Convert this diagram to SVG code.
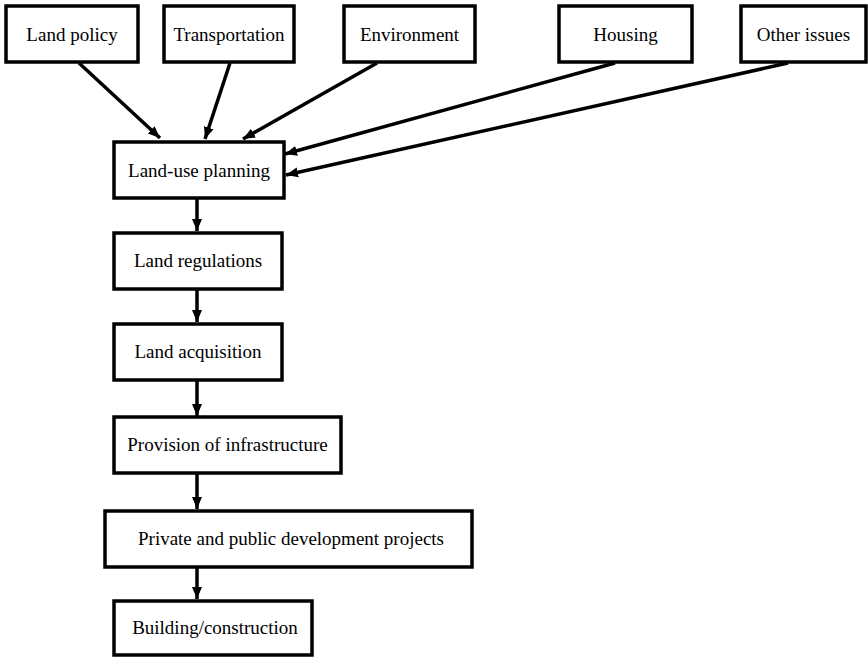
<svg xmlns="http://www.w3.org/2000/svg" width="868" height="658" viewBox="0 0 868 658">
<style>
.box{fill:#fff;stroke:#000;stroke-width:3.5}
.lbl{font-family:"Liberation Serif","Times New Roman",serif;font-size:19px;fill:#000;text-anchor:middle;dominant-baseline:central}
.con{stroke:#000;stroke-width:3.5;fill:none;marker-end:url(#ah)}
</style>
<defs>
<marker id="ah" markerUnits="userSpaceOnUse" markerWidth="13" markerHeight="13" viewBox="0 0 13 13" refX="12" refY="6.5" orient="auto">
<path d="M0,1.5 L12,6.5 L0,11.5 Z" fill="#000"/>
</marker>
</defs>
<rect width="868" height="658" fill="#fff"/>
<g id="connectors">
<line class="con" x1="79" y1="63" x2="160" y2="138"/>
<line class="con" x1="230" y1="63" x2="205" y2="139"/>
<line class="con" x1="377" y1="63" x2="243" y2="139"/>
<line class="con" x1="615" y1="63" x2="285" y2="154"/>
<line class="con" x1="788" y1="63" x2="286" y2="175"/>
<line class="con" x1="197" y1="199" x2="197" y2="231"/>
<line class="con" x1="197" y1="290" x2="197" y2="322"/>
<line class="con" x1="197" y1="381" x2="197" y2="416"/>
<line class="con" x1="197" y1="474" x2="197" y2="509"/>
<line class="con" x1="197" y1="568" x2="197" y2="599"/>
</g>
<g id="n-landpolicy"><rect class="box" x="6" y="6" width="132" height="56"/><text class="lbl" x="72" y="34">Land policy</text></g>
<g id="n-transportation"><rect class="box" x="164" y="6" width="130" height="56"/><text class="lbl" x="229" y="34">Transportation</text></g>
<g id="n-environment"><rect class="box" x="344" y="6" width="131" height="56"/><text class="lbl" x="409.5" y="34">Environment</text></g>
<g id="n-housing"><rect class="box" x="559" y="6" width="133" height="56"/><text class="lbl" x="625.5" y="34">Housing</text></g>
<g id="n-other"><rect class="box" x="741" y="6" width="125" height="56"/><text class="lbl" x="803.5" y="34">Other issues</text></g>
<g id="n-landuse"><rect class="box" x="114" y="142" width="170" height="56"/><text class="lbl" x="199" y="170">Land-use planning</text></g>
<g id="n-regulations"><rect class="box" x="114" y="233" width="168" height="56"/><text class="lbl" x="198" y="260">Land regulations</text></g>
<g id="n-acquisition"><rect class="box" x="114" y="324" width="168" height="56"/><text class="lbl" x="198" y="351">Land acquisition</text></g>
<g id="n-infrastructure"><rect class="box" x="114" y="417" width="227" height="56"/><text class="lbl" x="227.5" y="444">Provision of infrastructure</text></g>
<g id="n-projects"><rect class="box" x="105" y="511" width="367" height="56"/><text class="lbl" x="291" y="538">Private and public development projects</text></g>
<g id="n-building"><rect class="box" x="114" y="601" width="198" height="54"/><text class="lbl" x="215" y="627">Building/construction</text></g>
</svg>
